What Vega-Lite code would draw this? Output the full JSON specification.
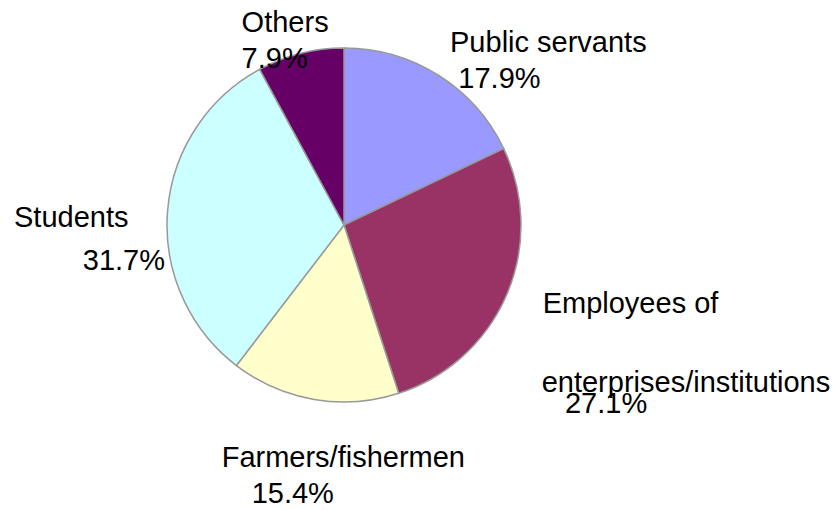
{
  "$schema": "https://vega.github.io/schema/vega-lite/v6.json",
  "width": 688,
  "height": 450,
  "autosize": {"type": "none"},
  "padding": {"left": 0, "top": 0, "right": 150, "bottom": 60},
  "background": "white",
  "config": {"view": {"stroke": null}, "text": {"font": "Liberation Sans", "fontSize": 29, "color": "#000000"}},
  "data": {"values": [
    {"cat": "Public servants", "value": 17.9, "order": 1, "name1": "Public servants", "name2": "", "pct": "17.9%"},
    {"cat": "Employees", "value": 27.1, "order": 2, "name1": "Employees of", "name2": "enterprises/institutions", "pct": "27.1%"},
    {"cat": "Farmers", "value": 15.4, "order": 3, "name1": "Farmers/fishermen", "name2": "", "pct": "15.4%"},
    {"cat": "Students", "value": 31.7, "order": 4, "name1": "Students", "name2": "", "pct": "31.7%"},
    {"cat": "Others", "value": 7.9, "order": 5, "name1": "Others", "name2": "", "pct": "7.9%"}
  ]},
  "encoding": {
    "theta": {"field": "value", "type": "quantitative", "stack": true},
    "order": {"field": "order", "type": "quantitative"}
  },
  "layer": [
    {
      "mark": {"type": "arc", "radius": 177, "stroke": "#999999", "strokeWidth": 1.5},
      "encoding": {
        "color": {"field": "cat", "type": "nominal", "legend": null,
          "scale": {"domain": ["Public servants", "Employees", "Farmers", "Students", "Others"],
                    "range": ["#9999FF", "#993366", "#FFFFCC", "#CCFFFF", "#660066"]}}
      }
    },
    {"mark": {"type": "text", "radius": 230, "align": "left", "baseline": "alphabetic", "dx": -16.6, "dy": 21.3},
     "encoding": {"text": {"condition": {"test": "datum.cat === 'Public servants'", "field": "name1"}, "value": ""}}},
    {"mark": {"type": "text", "radius": 230, "align": "left", "baseline": "alphabetic", "dx": -8.3, "dy": 57.9},
     "encoding": {"text": {"condition": {"test": "datum.cat === 'Public servants'", "field": "pct"}, "value": ""}}},
    {"mark": {"type": "text", "radius": 230, "align": "left", "baseline": "alphabetic", "dx": -12.7, "dy": -2.6},
     "encoding": {"text": {"condition": {"test": "datum.cat === 'Employees'", "field": "name1"}, "value": ""}}},
    {"mark": {"type": "text", "radius": 230, "align": "left", "baseline": "alphabetic", "dx": -13.7, "dy": 76},
     "encoding": {"text": {"condition": {"test": "datum.cat === 'Employees'", "field": "name2"}, "value": ""}}},
    {"mark": {"type": "text", "radius": 230, "align": "left", "baseline": "alphabetic", "dx": 9.6, "dy": 97.7},
     "encoding": {"text": {"condition": {"test": "datum.cat === 'Employees'", "field": "pct"}, "value": ""}}},
    {"mark": {"type": "text", "radius": 230, "align": "left", "baseline": "alphabetic", "dx": -83.5, "dy": 15},
     "encoding": {"text": {"condition": {"test": "datum.cat === 'Farmers'", "field": "name1"}, "value": ""}}},
    {"mark": {"type": "text", "radius": 230, "align": "left", "baseline": "alphabetic", "dx": -53.5, "dy": 51.6},
     "encoding": {"text": {"condition": {"test": "datum.cat === 'Farmers'", "field": "pct"}, "value": ""}}},
    {"mark": {"type": "text", "radius": 230, "align": "left", "baseline": "alphabetic", "dx": -100.7, "dy": 19.7},
     "encoding": {"text": {"condition": {"test": "datum.cat === 'Students'", "field": "name1"}, "value": ""}}},
    {"mark": {"type": "text", "radius": 230, "align": "right", "baseline": "alphabetic", "dx": 50.3, "dy": 63},
     "encoding": {"text": {"condition": {"test": "datum.cat === 'Students'", "field": "pct"}, "value": ""}}},
    {"mark": {"type": "text", "radius": 230, "align": "left", "baseline": "alphabetic", "dx": -45.9, "dy": 30.3},
     "encoding": {"text": {"condition": {"test": "datum.cat === 'Others'", "field": "name1"}, "value": ""}}},
    {"mark": {"type": "text", "radius": 230, "align": "left", "baseline": "alphabetic", "dx": -45.9, "dy": 66.3},
     "encoding": {"text": {"condition": {"test": "datum.cat === 'Others'", "field": "pct"}, "value": ""}}}
  ]
}
